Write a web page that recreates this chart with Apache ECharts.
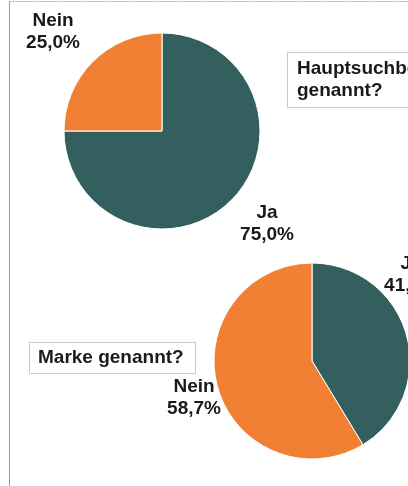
<!DOCTYPE html>
<html lang='de'>
<head>
  <meta charset='UTF-8'>
  <title>Hauptsuchbegriff / Marke genannt?</title>
  <script src="https://cdn.jsdelivr.net/npm/echarts@6/dist/echarts.min.js"></script>
  <style>
    html, body { margin: 0; padding: 0; background: #fff; }
  </style>
</head>
<body>
<div id="main" style="width: 408px; height: 486px;"></div>
<script>
  // Werte aus der Grafik (Anteile in %)
  const categories = ['Ja', 'Nein']
  const hauptsuchbegriff = [75.0, 25.0]
  const marke = [41.3, 58.7]
  const colors = ['#335f5f', '#f28034']

  const titles = ['Hauptsuchbegriff\ngenannt?', 'Marke genannt?']

  // Lage der Beschriftungen (Mittelpunkt des Textblocks)
  const labelSpots = [
    { Ja: [267, 224], Nein: [53, 32] },
    { Ja: [411, 275], Nein: [194, 398] }
  ]

  const font = 'Liberation Sans, Arial, sans-serif'
  const fontSize = 19

  function pieData(values) {
    return categories.map((name, i) => ({
      name,
      value: values[i],
      itemStyle: { color: colors[i] }
    }))
  }

  function fmt(p) {
    return p.name + '\n' + p.value.toFixed(1).replace('.', ',') + '%'
  }

  const labelStyle = {
    show: true,
    position: 'outside',
    formatter: fmt,
    overflow: 'none',
    fontFamily: font,
    fontWeight: 'bold',
    fontSize: fontSize,
    lineHeight: 22,
    color: '#1a1a1a',
    align: 'center'
  }

  var myChart = echarts.init(document.getElementById('main'))

  var option = {
    animation: false,
    title: [
      {
        text: titles[0],
        left: 287, top: 52,
        padding: [6, 10, 6, 10],
        borderColor: '#c8c8c8', borderWidth: 1,
        textStyle: { fontFamily: font, fontWeight: 'bold', fontSize: fontSize, lineHeight: 22, color: '#1a1a1a' }
      },
      {
        text: titles[1],
        left: 29, top: 342,
        padding: [6, 12, 6, 9],
        borderColor: '#c8c8c8', borderWidth: 1,
        textStyle: { fontFamily: font, fontWeight: 'bold', fontSize: fontSize, lineHeight: 20, color: '#1a1a1a' }
      }
    ],
    graphic: [
      { type: 'line', shape: { x1: 9.5, y1: 1.5, x2: 408, y2: 1.5 }, style: { stroke: '#aaa', lineWidth: 1, lineDash: [2, 1] } },
      { type: 'line', shape: { x1: 9.5, y1: 1.5, x2: 9.5, y2: 486 }, style: { stroke: '#999', lineWidth: 1 } }
    ],
    series: [hauptsuchbegriff, marke].map((values, k) => ({
      type: 'pie',
      center: k === 0 ? [162, 131] : [312, 361],
      radius: 98,
      startAngle: 90,
      clockwise: true,
      silent: true,
      avoidLabelOverlap: false,
      itemStyle: { borderColor: '#fff', borderWidth: 1 },
      label: labelStyle,
      labelLine: { show: false },
      labelLayout: function (p) {
        const spot = labelSpots[k][categories[p.dataIndex]]
        return { x: spot[0], y: spot[1], align: 'center', verticalAlign: 'middle', hideOverlap: false }
      },
      data: pieData(values)
    }))
  }
  myChart.setOption(option)
</script>
</body>
</html>
